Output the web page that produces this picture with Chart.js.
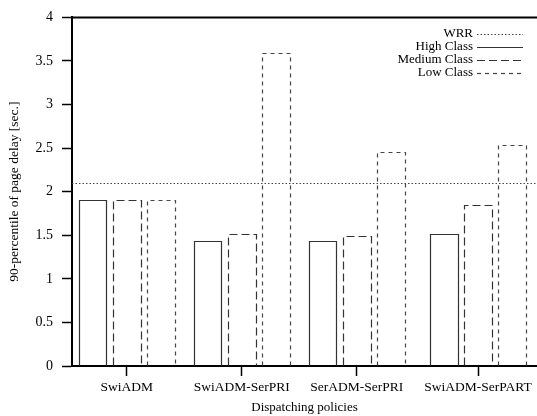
<!DOCTYPE html>
<html>
<head>
<meta charset="utf-8">
<script src="https://cdn.jsdelivr.net/npm/chart.js@4/dist/chart.umd.min.js"></script>
<style>
html,body{margin:0;padding:0;background:#fff;}
#wrap{width:537px;height:416px;position:relative;}
</style>
</head>
<body>
<div id="wrap"><canvas id="c" width="537" height="416"></canvas></div>
<script>
const categories = ["SwiADM", "SwiADM-SerPRI", "SerADM-SerPRI", "SwiADM-SerPART"];
const categoryX = [0, 1, 2, 3.055];
const highClass = [1.90, 1.44, 1.44, 1.51];
const mediumClass = [1.90, 1.51, 1.49, 1.85];
const lowClass = [1.90, 3.59, 2.45, 2.54];
const wrrValue = [2.10];
const seriesLabels = ["High Class", "Medium Class", "Low Class"];
const wrrLabel = "WRR";
const yTicks = [0, 0.5, 1, 1.5, 2, 2.5, 3, 3.5, 4];

const FONT = "'Liberation Serif', 'Times New Roman', serif";
const styles = [
  {color: '#333', dash: [], width: 1.2},
  {color: '#333', dash: [8, 4], width: 1.2},
  {color: '#444', dash: [4, 4], width: 1.2}
];
const wrrStyle = {color: '#444', dash: [1.5, 2], width: 1.2};

const toPoints = arr => arr.map((v, i) => ({x: categoryX[i], y: v}));

const outlinePlugin = {
  id: 'outlines',
  afterDatasetsDraw(chart) {
    const ctx = chart.ctx;
    const area = chart.chartArea;
    const ys = chart.scales.y;
    ctx.save();
    ctx.beginPath();
    ctx.rect(area.left, area.top, area.right - area.left, area.bottom - area.top);
    ctx.clip();
    const wy = Math.round(ys.getPixelForValue(wrrValue[0])) + 0.5;
    ctx.strokeStyle = wrrStyle.color;
    ctx.lineWidth = wrrStyle.width;
    ctx.setLineDash(wrrStyle.dash);
    ctx.beginPath();
    ctx.moveTo(area.left, wy);
    ctx.lineTo(area.right, wy);
    ctx.stroke();
    ctx.restore();
    chart.data.datasets.forEach((ds, di) => {
      const meta = chart.getDatasetMeta(di);
      const st = styles[di];
      ctx.save();
      ctx.strokeStyle = st.color;
      ctx.lineWidth = st.width;
      ctx.setLineDash(st.dash);
      meta.data.forEach(el => {
        const p = el.getProps(['x', 'y', 'base', 'width'], true);
        const l = Math.round(p.x - p.width / 2) + 0.5;
        const r = Math.round(p.x + p.width / 2) + 0.5;
        const t = Math.round(p.y) + 0.5;
        const b = p.base;
        ctx.beginPath();
        ctx.moveTo(l, b);
        ctx.lineTo(l, t);
        ctx.lineTo(r, t);
        ctx.lineTo(r, b);
        ctx.stroke();
      });
      ctx.restore();
    });
    ctx.save();
    ctx.strokeStyle = '#000';
    ctx.lineWidth = 2;
    ctx.beginPath();
    ctx.moveTo(area.left - 1, area.top);
    ctx.lineTo(area.right, area.top);
    ctx.stroke();
    ctx.restore();
    const items = [{label: wrrLabel, st: wrrStyle}].concat(seriesLabels.map((s, i) => ({label: s, st: styles[i]})));
    ctx.save();
    ctx.font = '13px ' + FONT;
    ctx.fillStyle = '#000';
    ctx.textAlign = 'right';
    ctx.textBaseline = 'middle';
    const tx = 473, lx0 = 477, lx1 = 523;
    items.forEach((it, i) => {
      const y = 34 + i * 13;
      ctx.fillText(it.label, tx, y);
      ctx.strokeStyle = it.st.color;
      ctx.lineWidth = it.st.width;
      ctx.setLineDash(it.st.dash);
      ctx.beginPath();
      ctx.moveTo(lx0, Math.round(y) + 0.5);
      ctx.lineTo(lx1, Math.round(y) + 0.5);
      ctx.stroke();
    });
    ctx.restore();
  }
};

new Chart(document.getElementById('c'), {
  type: 'bar',
  data: {
    datasets: [
      {label: seriesLabels[0], data: toPoints(highClass)},
      {label: seriesLabels[1], data: toPoints(mediumClass)},
      {label: seriesLabels[2], data: toPoints(lowClass)}
    ].map(d => Object.assign(d, {
      backgroundColor: 'rgba(0,0,0,0)', borderWidth: 0,
      categoryPercentage: 0.889, barPercentage: 0.81
    }))
  },
  options: {
    responsive: false,
    animation: false,
    devicePixelRatio: 1,
    layout: {padding: {top: 15, right: 0, left: 0, bottom: 0}},
    plugins: {legend: {display: false}, tooltip: {enabled: false}},
    scales: {
      x: {
        type: 'linear',
        offset: false,
        min: -0.476, max: 3.568,
        afterFit(s) { s.height = 50; },
        afterBuildTicks(s) { s.ticks = categoryX.map(v => ({value: v})); },
        ticks: {
          includeBounds: false, padding: 3,
          color: '#000', font: {family: FONT, size: 13.5},
          maxRotation: 0, autoSkip: false,
          callback: (v, i) => categories[i] ?? ''
        },
        grid: {offset: false, drawOnChartArea: false, drawTicks: true, tickLength: 10, tickColor: '#000', tickWidth: 1.5},
        border: {display: true, color: '#000', width: 2},
        title: {display: true, text: 'Dispatching policies', color: '#000',
          font: {family: FONT, size: 13}, padding: {top: 0, bottom: 1}}
      },
      y: {
        min: 0, max: 4,
        afterFit(s) { s.width = 72; },
        afterBuildTicks(s) { s.ticks = yTicks.map(v => ({value: v})); },
        ticks: {padding: 9, color: '#000', font: {family: FONT, size: 14},
          callback: v => String(v)},
        grid: {drawOnChartArea: false, drawTicks: true, tickLength: 10, tickColor: '#000', tickWidth: 1.5},
        border: {display: true, color: '#000', width: 2},
        title: {display: true, text: '90-percentile of page delay [sec.]', color: '#000',
          font: {family: FONT, size: 13.5}, padding: {top: 6, bottom: 0}}
      }
    }
  },
  plugins: [outlinePlugin]
});
</script>
</body>
</html>
